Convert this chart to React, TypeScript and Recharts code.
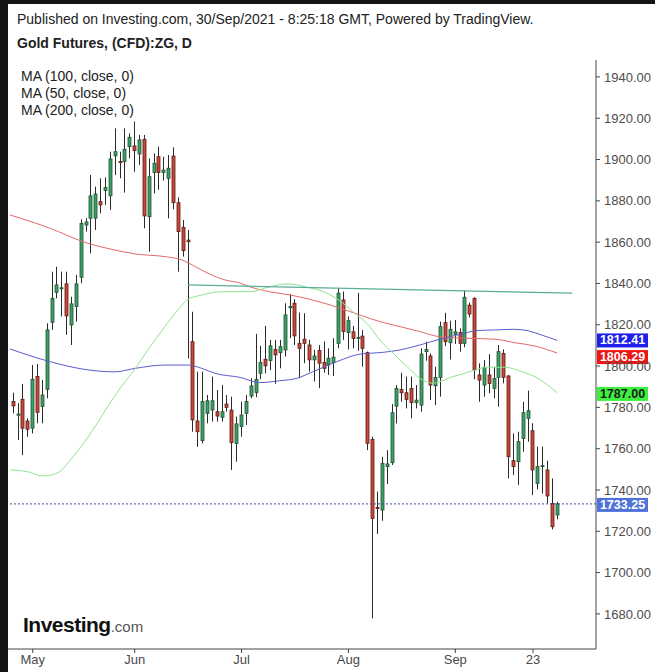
import { ComposedChart, Bar, Line, XAxis, YAxis, ReferenceLine } from "recharts";

// Gold Futures (CFD) daily candles, 27 Apr – 30 Sep 2021
const opens = [
  1782.8, 1776.2, 1783.9, 1773.4, 1769.9, 1794.9, 1780.4, 1788.7, 1821.2, 1835.7,
  1837.5, 1839.8, 1819.9, 1828.8, 1843.0, 1868.3, 1871.6, 1871.6, 1879.6, 1885.0,
  1882.4, 1901.8, 1899.0, 1899.0, 1906.2, 1906.6, 1902.7, 1909.8, 1872.3, 1893.7,
  1901.4, 1893.7, 1890.9, 1901.7, 1879.1, 1867.2, 1861.0, 1811.8, 1773.4, 1763.9,
  1777.1, 1778.7, 1777.9, 1775.2, 1781.6, 1778.7, 1762.5, 1770.7, 1777.1, 1785.5,
  1787.2, 1796.5, 1803.3, 1802.7, 1808.1, 1806.5, 1807.8, 1828.2, 1830.4, 1811.0,
  1813.0, 1810.2, 1803.0, 1807.5, 1801.7, 1800.6, 1801.7, 1811.0, 1832.0, 1816.2,
  1816.6, 1813.5, 1814.5, 1806.5, 1764.5, 1731.6, 1730.3, 1751.3, 1753.2, 1780.6,
  1788.7, 1787.1, 1789.2, 1782.3, 1781.1, 1807.0, 1804.9, 1790.5, 1794.5, 1821.0,
  1811.3, 1815.4, 1816.2, 1811.0, 1829.5, 1832.8, 1795.7, 1790.8, 1795.7, 1789.2,
  1794.5, 1806.1, 1795.2, 1754.2, 1753.7, 1765.0, 1774.7, 1768.7, 1743.2, 1751.4,
  1749.7, 1733.5, 1727.9,
];
const highs = [
  1787.1, 1782.0, 1791.3, 1774.7, 1800.5, 1801.0, 1793.3, 1820.7, 1845.7, 1848.1,
  1845.7, 1845.7, 1833.6, 1844.1, 1871.1, 1871.6, 1892.5, 1886.9, 1890.9, 1891.4,
  1903.8, 1915.1, 1903.8, 1915.1, 1912.7, 1918.4, 1911.9, 1911.9, 1900.6, 1903.0,
  1906.2, 1901.4, 1902.2, 1905.9, 1881.7, 1870.7, 1865.9, 1826.3, 1797.3, 1797.3,
  1786.0, 1794.9, 1788.4, 1790.8, 1786.0, 1785.2, 1775.5, 1782.8, 1786.0, 1794.1,
  1815.6, 1809.8, 1819.4, 1812.7, 1812.7, 1812.7, 1830.4, 1834.9, 1832.4, 1825.9,
  1825.6, 1812.7, 1807.8, 1810.2, 1811.9, 1808.6, 1813.5, 1837.7, 1836.1, 1824.0,
  1819.4, 1835.5, 1817.4, 1807.0, 1765.8, 1739.2, 1756.1, 1759.3, 1781.6, 1790.8,
  1796.8, 1794.9, 1794.9, 1790.8, 1808.6, 1811.8, 1806.1, 1799.7, 1821.5, 1825.8,
  1822.0, 1822.3, 1818.3, 1836.5, 1830.7, 1833.3, 1801.3, 1802.9, 1805.8, 1799.7,
  1810.2, 1808.1, 1795.7, 1767.4, 1768.2, 1782.7, 1788.1, 1772.3, 1761.0, 1761.0,
  1754.2, 1745.6, 1734.3,
];
const lows = [
  1777.1, 1764.2, 1756.9, 1765.8, 1767.4, 1772.3, 1772.3, 1784.4, 1817.5, 1832.8,
  1824.0, 1815.1, 1810.2, 1821.5, 1840.1, 1865.1, 1854.6, 1865.9, 1874.0, 1878.0,
  1875.6, 1892.5, 1890.9, 1884.0, 1900.6, 1894.1, 1897.4, 1866.7, 1855.4, 1883.6,
  1885.3, 1889.8, 1871.5, 1875.9, 1845.7, 1853.0, 1803.7, 1768.2, 1760.9, 1762.6,
  1772.3, 1773.1, 1773.1, 1773.1, 1777.9, 1749.7, 1753.7, 1765.8, 1771.5, 1784.4,
  1784.9, 1793.6, 1796.5, 1798.1, 1791.4, 1798.9, 1804.6, 1813.5, 1810.2, 1794.1,
  1801.4, 1797.3, 1792.5, 1789.3, 1796.8, 1795.7, 1795.2, 1808.6, 1812.7, 1808.0,
  1808.6, 1807.4, 1799.7, 1759.3, 1677.8, 1718.7, 1725.1, 1742.9, 1752.1, 1772.2,
  1782.7, 1779.5, 1774.7, 1779.5, 1777.9, 1802.6, 1783.5, 1781.1, 1785.2, 1809.7,
  1803.2, 1810.7, 1807.0, 1809.1, 1823.6, 1793.6, 1782.7, 1785.2, 1786.8, 1784.4,
  1780.3, 1791.6, 1745.6, 1747.2, 1742.4, 1758.5, 1763.4, 1737.5, 1740.3, 1738.3,
  1733.5, 1720.9, 1725.8,
];
const closes = [
  1780.7, 1776.8, 1769.9, 1769.4, 1793.6, 1777.6, 1786.0, 1817.5, 1832.8, 1839.3,
  1837.9, 1824.3, 1830.1, 1839.8, 1869.1, 1869.8, 1882.4, 1883.3, 1878.0, 1886.5,
  1900.3, 1903.8, 1898.5, 1905.0, 1910.8, 1904.3, 1909.5, 1872.7, 1891.7, 1898.2,
  1893.7, 1894.9, 1895.8, 1879.1, 1865.1, 1855.9, 1860.2, 1773.9, 1768.2, 1782.8,
  1783.2, 1783.2, 1775.8, 1777.9, 1780.0, 1762.9, 1772.0, 1776.3, 1782.8, 1790.4,
  1793.6, 1801.7, 1800.1, 1809.8, 1805.4, 1809.4, 1824.8, 1828.8, 1814.6, 1808.6,
  1811.0, 1803.0, 1804.9, 1801.4, 1798.9, 1803.8, 1804.3, 1835.3, 1816.7, 1822.0,
  1813.4, 1813.9, 1808.6, 1762.6, 1726.2, 1731.0, 1752.9, 1752.6, 1777.4, 1789.2,
  1787.1, 1783.9, 1782.3, 1783.5, 1805.8, 1808.1, 1790.8, 1794.5, 1819.1, 1811.8,
  1817.8, 1816.6, 1811.0, 1833.3, 1825.2, 1798.1, 1793.2, 1799.4, 1791.6, 1794.0,
  1807.0, 1794.5, 1756.1, 1751.3, 1763.4, 1777.4, 1778.4, 1749.7, 1751.3, 1751.8,
  1737.1, 1722.2, 1733.25,
];

// moving averages: [bar index, price]
const ma100Pts: [number, number][] = [
  [-0.7, 1808.3], [7.6, 1802.1], [14.4, 1798.5], [20.9, 1797.2], [25.1, 1798.9],
  [31.2, 1800.5], [36, 1800.5], [38.8, 1798.9], [41.5, 1796.5], [46.7, 1794.5],
  [50.8, 1792.0], [54.9, 1792.9], [58.4, 1794.1], [61.7, 1797.3], [66.6, 1802.1],
  [69.3, 1804.5], [71.4, 1805.8], [75.5, 1806.5], [79.6, 1807.8], [83.7, 1810.2],
  [87.8, 1813.0], [93, 1815.9], [95.1, 1817.1], [99.2, 1817.5], [103.3, 1817.8],
  [106, 1817.1], [108.8, 1815.0], [112, 1812.41],
];
const ma50Pts: [number, number][] = [
  [-0.7, 1749.7], [2.8, 1748.9], [6.1, 1746.8], [9, 1748.1], [12.3, 1756.1],
  [16.4, 1769.1], [19.9, 1782.0], [23, 1792.4], [24.4, 1796.5], [27.7, 1807.8],
  [31.2, 1819.1], [33.9, 1827.2], [36, 1832.3], [38.8, 1834.4], [42.9, 1836.0],
  [48.7, 1836.0], [52.8, 1838.4], [56.4, 1839.8], [60.5, 1838.2], [64.6, 1835.3],
  [67.9, 1830.4], [69.9, 1826.3], [72.8, 1820.7], [75.5, 1812.6], [78.2, 1806.2],
  [81.1, 1799.7], [83.7, 1794.1], [86.4, 1791.7], [87.8, 1792.4], [90.5, 1794.9],
  [93, 1796.5], [95.1, 1798.1], [97.7, 1799.4], [101.2, 1799.4], [104.7, 1797.3],
  [108, 1794.1], [112, 1787.0],
];
const ma200Pts: [number, number][] = [
  [-0.7, 1873.2], [7.6, 1866.7], [14.4, 1860.2], [20.9, 1856.2], [25.1, 1854.3],
  [31.2, 1853.0], [34.7, 1851.4], [36.8, 1849.0], [40.1, 1844.9], [43.6, 1841.7],
  [46.7, 1840.2], [48.7, 1838.4], [52.8, 1836.0], [57, 1834.4], [61.1, 1832.3],
  [65.2, 1829.6], [68.3, 1827.2], [71.4, 1824.7], [75.5, 1821.5], [79.6, 1819.1],
  [83.7, 1816.7], [87.8, 1814.2], [93, 1813.5], [99.2, 1813.0], [103.3, 1811.3],
  [107.4, 1809.7], [112, 1806.29],
];

const priceTicks = [1680, 1700, 1720, 1740, 1760, 1780, 1800, 1820, 1840, 1860, 1880, 1900, 1920, 1940];
const dateTickIdx = [4, 25, 47, 69, 91, 107];
const dateTickLabels = ["May", "Jun", "Jul", "Aug", "Sep", "23"];

// drawn resistance line and last price
const trendStart = { x: 36, y: 1839.3 };
const trendEnd = { x: 115.1, y: 1835.3 };
const lastPrice = 1733.25;
const ma100Last = 1812.41;
const ma200Last = 1806.29;
const ma50Last = 1787.0;

const rows = opens.map((o, i) => ({
  i,
  o,
  h: highs[i],
  l: lows[i],
  c: closes[i],
  range: [lows[i], highs[i]],
}));
const toLine = (pts: [number, number][]) => pts.map(([i, v]) => ({ i, v }));

const FONT = '"Liberation Sans", Arial, sans-serif';

const Candle = (props: any) => {
  const { x, y, width, height, payload } = props;
  if (x == null || payload == null) return null;
  const { o, h, l, c } = payload;
  const top = Math.min(y, y + height);
  const hgt = Math.abs(height);
  const k = h === l ? 0 : hgt / (h - l);
  const py = (v: number) => top + (h - v) * k;
  const cx = Math.floor(x + width / 2) + 0.5;
  const up = c >= o;
  const bTop = py(Math.max(o, c));
  const bH = Math.max(1, py(Math.min(o, c)) - bTop);
  return (
    <g>
      <line x1={cx} x2={cx} y1={top} y2={top + hgt} stroke="#2b2b2b" strokeWidth={1} />
      <rect
        x={cx - 1.5}
        y={bTop}
        width={3}
        height={bH}
        fill={up ? "#3f9d66" : "#c9473b"}
        stroke={up ? "#1f5535" : "#5c1d16"}
        strokeWidth={0.8}
      />
    </g>
  );
};

const priceTag = (text: string, bg: string, fg: string, dy: number) => (props: any) => {
  const vb = props.viewBox;
  if (!vb) return null;
  const x0 = vb.x + vb.width + 1;
  const y0 = vb.y - 7 + dy;
  return (
    <g>
      <rect x={x0} y={y0} width={51} height={14} fill={bg} />
      <text
        x={x0 + 25.5}
        y={y0 + 11}
        textAnchor="middle"
        fontSize={12.5}
        fontWeight="bold"
        fontFamily={FONT}
        fill={fg}
      >
        {text}
      </text>
    </g>
  );
};

export default function App() {
  return (
    <div style={{ position: "relative", width: 655, height: 672, background: "#141414", overflow: "hidden", fontFamily: FONT }}>
      <style>{"body{margin:0}"}</style>
      <div style={{ position: "absolute", left: 8, top: 4, right: 0, bottom: 0, background: "#fff" }} />

      <div style={{ position: "absolute", left: 0, top: 0 }}>
        <ComposedChart
          width={655}
          height={672}
          data={rows}
          margin={{ top: 60, right: 0, bottom: 0, left: 8 }}
        >
          <XAxis
            dataKey="i"
            type="number"
            domain={[-1.09, 119.97]}
            allowDataOverflow
            ticks={dateTickIdx}
            interval={0}
            tickFormatter={(v: number) => dateTickLabels[dateTickIdx.indexOf(v)] ?? ""}
            height={23}
            tickSize={4}
            tickMargin={2}
            axisLine={{ stroke: "#444" }}
            tickLine={{ stroke: "#444" }}
            tick={{ fontSize: 13, fill: "#4a4a4a", fontFamily: FONT }}
          />
          <YAxis
            orientation="right"
            width={59}
            domain={[1663, 1948.2]}
            allowDataOverflow
            ticks={priceTicks}
            interval={0}
            tickFormatter={(v: number) => v.toFixed(2)}
            tickSize={4}
            tickMargin={4}
            axisLine={{ stroke: "#444" }}
            tickLine={{ stroke: "#444" }}
            tick={{ fontSize: 13, fill: "#4d4d4d", fontFamily: FONT }}
          />

          <Line data={toLine(ma200Pts)} dataKey="v" type="monotone" dot={false} stroke="#e46a6a" strokeWidth={1} isAnimationActive={false} />
          <Line data={toLine(ma100Pts)} dataKey="v" type="monotone" dot={false} stroke="#5c5ccf" strokeWidth={1} isAnimationActive={false} />
          <Line data={toLine(ma50Pts)} dataKey="v" type="monotone" dot={false} stroke="#8fe38f" strokeWidth={1} isAnimationActive={false} />

          <ReferenceLine
            segment={[trendStart, trendEnd]}
            stroke="#5aae98"
            strokeWidth={1.2}
            ifOverflow="visible"
          />
          <ReferenceLine y={lastPrice} stroke="#3b4f9e" strokeDasharray="2 2" strokeWidth={1} />

          <Bar dataKey="range" barSize={5} shape={Candle} isAnimationActive={false} />

          <ReferenceLine y={ma100Last} stroke="none" label={priceTag("1812.41", "#1f1fee", "#fff", 0)} />
          <ReferenceLine y={ma200Last} stroke="none" label={priceTag("1806.29", "#ee1515", "#fff", 4)} />
          <ReferenceLine y={ma50Last} stroke="none" label={priceTag("1787.00", "#3ef03e", "#1a1a1a", 1)} />
          <ReferenceLine y={lastPrice} stroke="none" label={priceTag("1733.25", "#4f72d8", "#fff", 1)} />
        </ComposedChart>
      </div>

      <div style={{ position: "absolute", left: 17, top: 11, fontSize: 14, color: "#222", lineHeight: "17px" }}>
        Published on Investing.com, 30/Sep/2021 - 8:25:18 GMT, Powered by TradingView.
      </div>
      <div style={{ position: "absolute", left: 17, top: 35, fontSize: 14, fontWeight: "bold", color: "#222", lineHeight: "17px" }}>
        Gold Futures, (CFD):ZG, D
      </div>

      <div style={{ position: "absolute", left: 21, top: 68, fontSize: 14, color: "#222", lineHeight: "17px" }}>
        <div>MA (100, close, 0)</div>
        <div>MA (50, close, 0)</div>
        <div>MA (200, close, 0)</div>
      </div>

      <div style={{ position: "absolute", left: 23, top: 613, lineHeight: "24px", whiteSpace: "nowrap" }}>
        <span style={{ fontSize: 21, fontWeight: "bold", color: "#111", letterSpacing: -0.5 }}>Investing</span>
        <span style={{ fontSize: 15, color: "#555" }}>.com</span>
      </div>
    </div>
  );
}
